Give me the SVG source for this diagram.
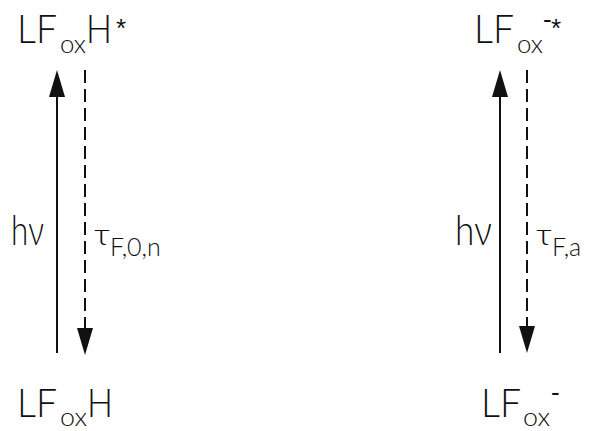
<svg xmlns="http://www.w3.org/2000/svg" width="590" height="431" viewBox="0 0 590 431">
<style>
.big{font-family:"Lato","Liberation Sans",sans-serif;font-weight:300;font-size:40px;fill:#111}
.hv{font-family:"Lato","Liberation Sans",sans-serif;font-weight:300;font-size:42px;fill:#111}
.sub{font-family:"Lato","Liberation Sans",sans-serif;font-weight:300;font-size:26px;fill:#111}
.sup{font-family:"Liberation Sans",sans-serif;font-size:26px;fill:#111}
.tau{font-family:"Lato","DejaVu Sans",sans-serif;font-weight:300;font-size:30px;fill:#111}
.tsub{font-family:"Lato","Liberation Sans",sans-serif;font-weight:300;font-size:25px;fill:#111}
.solid{stroke:#111;stroke-width:2;fill:none}
.dash{stroke:#111;stroke-width:2;fill:none;stroke-dasharray:13 6}
</style>
<defs>
<marker id="head" markerUnits="userSpaceOnUse" viewBox="0 0 27 16" refX="0" refY="8" markerWidth="27" markerHeight="16" orient="auto">
<path d="M0,0 L27,8 L0,16 z" fill="#111"/>
</marker>
</defs>
<g id="connectors">
<line class="solid" x1="57" y1="353" x2="57" y2="97" marker-end="url(#head)"/>
<line class="dash" x1="85" y1="70" x2="85" y2="328" marker-end="url(#head)"/>
<line class="solid" x1="500" y1="353" x2="500" y2="97" marker-end="url(#head)"/>
<line class="dash" x1="527" y1="70" x2="527" y2="326" marker-end="url(#head)"/>
</g>
<g id="lfoxh-excited">
<text class="big" x="17" y="43" textLength="40" lengthAdjust="spacingAndGlyphs">LF</text>
<text class="sub" x="60" y="53" textLength="26" lengthAdjust="spacingAndGlyphs">ox</text>
<text class="big" x="86" y="43" textLength="26" lengthAdjust="spacingAndGlyphs">H</text>
<text class="sup" x="116" y="37">*</text>
</g>
<g id="lfoxh-ground">
<text class="big" x="17" y="417" textLength="40" lengthAdjust="spacingAndGlyphs">LF</text>
<text class="sub" x="60" y="426" textLength="27" lengthAdjust="spacingAndGlyphs">ox</text>
<text class="big" x="87" y="417" textLength="26" lengthAdjust="spacingAndGlyphs">H</text>
</g>
<g id="lfox-anion-excited">
<text class="big" x="474" y="43" textLength="40" lengthAdjust="spacingAndGlyphs">LF</text>
<text class="sub" x="517" y="53" textLength="26" lengthAdjust="spacingAndGlyphs">ox</text>
<text class="sup" x="543" y="28">-</text>
<text class="sup" x="551" y="37">*</text>
</g>
<g id="lfox-anion-ground">
<text class="big" x="481" y="417" textLength="40" lengthAdjust="spacingAndGlyphs">LF</text>
<text class="sub" x="523" y="426" textLength="27" lengthAdjust="spacingAndGlyphs">ox</text>
<text class="sup" x="551" y="401">-</text>
</g>
<g id="labels-left">
<text class="hv" x="11" y="245" textLength="33" lengthAdjust="spacingAndGlyphs">hν</text>
<text class="tau" x="94" y="245" textLength="16" lengthAdjust="spacingAndGlyphs">τ</text>
<text class="tsub" x="110" y="256">F,0,n</text>
</g>
<g id="labels-right">
<text class="hv" x="455" y="245" textLength="37" lengthAdjust="spacingAndGlyphs">hν</text>
<text class="tau" x="536" y="245" textLength="16" lengthAdjust="spacingAndGlyphs">τ</text>
<text class="tsub" x="552" y="256">F,a</text>
</g>
</svg>
